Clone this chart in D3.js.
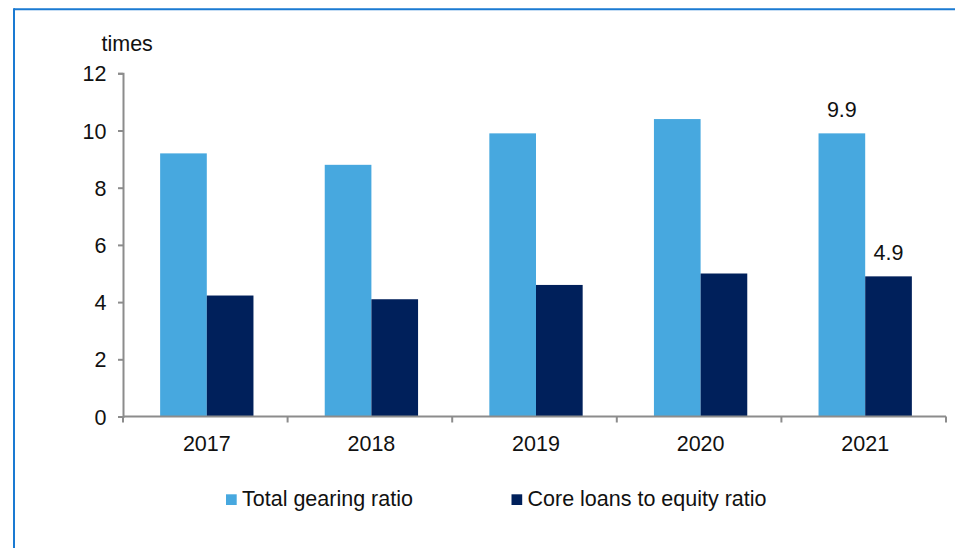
<!DOCTYPE html>
<html>
<head>
<meta charset="utf-8">
<script src="https://cdn.jsdelivr.net/npm/d3@7"></script>
<style>
  html, body { margin: 0; padding: 0; background: #fff; }
  svg { display: block; font-family: "Liberation Sans", Arial, sans-serif; }
</style>
</head>
<body>
<svg id="chart" width="955" height="548"></svg>
<script>
// Gearing data, 2017–2021
const years = ["2017", "2018", "2019", "2020", "2021"];
const totalGearing = [9.2, 8.8, 9.9, 10.4, 9.9];
const coreLoansToEquity = [4.23, 4.1, 4.6, 5.0, 4.9];
const seriesNames = ["Total gearing ratio", "Core loans to equity ratio"];
const seriesColors = ["#47a8df", "#00205b"];
const yTicks = [0, 2, 4, 6, 8, 10, 12];
// Only the latest year carries value labels
const labelled = { "2021": [9.9, 4.9] };

const svg = d3.select("#chart");
const textColor = "#111";
const fontSize = 21.5;

// Frame border (top and left edges visible)
svg.append("line").attr("x1", 14).attr("x2", 955).attr("y1", 9.3).attr("y2", 9.3)
  .attr("stroke", "#1a7ad2").attr("stroke-width", 2);
svg.append("line").attr("x1", 14).attr("x2", 14).attr("y1", 8.3).attr("y2", 548)
  .attr("stroke", "#1a7ad2").attr("stroke-width", 2);

const plot = { left: 123, right: 946, top: 73.3, bottom: 416.5 };

const x0 = d3.scaleBand().domain(years).range([plot.left, plot.right])
  .paddingInner(0.433).paddingOuter(0.2165);
const x1 = d3.scaleBand().domain(seriesNames).range([0, x0.bandwidth()]);
const y = d3.scaleLinear().domain([0, 12]).range([plot.bottom, plot.top]);
const shift = 1.5;

const rows = years.map((yr, i) => ({ year: yr, values: [totalGearing[i], coreLoansToEquity[i]] }));

// Bars
const groups = svg.append("g").selectAll("g").data(rows).join("g")
  .attr("transform", d => `translate(${x0(d.year) + shift},0)`);
groups.selectAll("rect").data(d => d.values.map((v, j) => ({ v, j })))
  .join("rect")
  .attr("x", d => x1(seriesNames[d.j]))
  .attr("width", x1.bandwidth())
  .attr("y", d => y(d.v))
  .attr("height", d => y(0) - y(d.v))
  .attr("fill", d => seriesColors[d.j]);

// Value labels
groups.each(function (d) {
  const vals = labelled[d.year];
  if (!vals) return;
  d3.select(this).selectAll("text.val").data(vals).join("text")
    .attr("class", "val")
    .attr("x", (v, j) => x1(seriesNames[j]) + x1.bandwidth() / 2)
    .attr("y", v => y(v) - 16)
    .attr("text-anchor", "middle")
    .attr("font-size", fontSize)
    .attr("fill", textColor)
    .text(v => d3.format(".1f")(v));
});

const axisColor = "#8c8c8c";

// Y axis
const yAxis = svg.append("g").attr("transform", `translate(${plot.left},0)`)
  .call(d3.axisLeft(y).tickValues(yTicks).tickSize(5).tickPadding(11.5).tickFormat(d3.format("d")));
yAxis.select(".domain").attr("stroke", axisColor).attr("stroke-width", 2);
yAxis.selectAll(".tick line").attr("stroke", axisColor).attr("stroke-width", 2);
yAxis.selectAll(".tick text").attr("font-size", fontSize).attr("fill", textColor)
  .attr("font-family", "Liberation Sans, Arial, sans-serif").attr("dy", "0.35em");

// X axis with ticks at category boundaries
const xAxisG = svg.append("g").attr("transform", `translate(0,${plot.bottom})`);
xAxisG.append("line").attr("x1", plot.left).attr("x2", plot.right)
  .attr("stroke", axisColor).attr("stroke-width", 2);
const boundaries = d3.range(years.length + 1).map(i => plot.left + i * (plot.right - plot.left) / years.length);
xAxisG.selectAll("line.tick").data(boundaries).join("line")
  .attr("class", "tick")
  .attr("x1", d => d).attr("x2", d => d).attr("y1", 0).attr("y2", 6)
  .attr("stroke", axisColor).attr("stroke-width", 2);
xAxisG.selectAll("text").data(years).join("text")
  .attr("x", d => x0(d) + x0.bandwidth() / 2 + shift)
  .attr("y", 34.5)
  .attr("text-anchor", "middle")
  .attr("font-size", fontSize)
  .attr("fill", textColor)
  .text(d => d);

// Unit label
svg.append("text").attr("x", 101.5).attr("y", 51).attr("font-size", fontSize).attr("fill", textColor).text("times");

// Legend
const legendItems = [{ x: 226, name: seriesNames[0], color: seriesColors[0] },
                     { x: 511.5, name: seriesNames[1], color: seriesColors[1] }];
const legend = svg.append("g").selectAll("g").data(legendItems).join("g");
legend.append("rect").attr("x", d => d.x).attr("y", 494.3).attr("width", 10.7).attr("height", 10.7)
  .attr("fill", d => d.color);
legend.append("text").attr("x", d => d.x + 16).attr("y", 506).attr("font-size", fontSize)
  .attr("fill", textColor).text(d => d.name);
</script>
</body>
</html>
